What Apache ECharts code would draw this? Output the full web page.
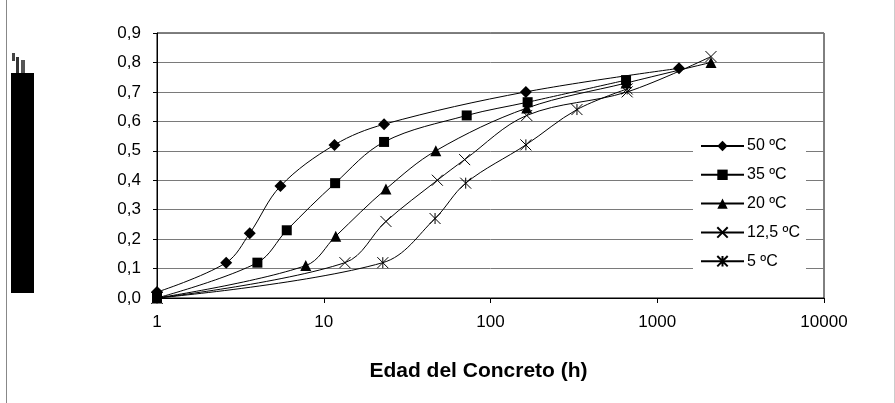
<!DOCTYPE html>
<html><head><meta charset="utf-8">
<script src="https://cdn.jsdelivr.net/npm/echarts@6/dist/echarts.min.js"></script>
<style>html,body{margin:0;padding:0;background:#fff}#c{width:895px;height:403px}</style>
</head><body><div id="c"></div>
<script>
var seriesNames = ['50 ºC', '35 ºC', '20 ºC', '12,5 ºC', '5 ºC'];
var xTicks = [1, 10, 100, 1000, 10000];
var yTicks = [0, 0.1, 0.2, 0.3, 0.4, 0.5, 0.6, 0.7, 0.8, 0.9];
var xTitle = 'Edad del Concreto (h)';

var t50x = [1, 2.6, 3.6, 5.5, 11.6, 23, 163, 1350];
var t50y = [0.02, 0.12, 0.22, 0.38, 0.52, 0.59, 0.70, 0.78];
var t35x = [1, 4, 6, 11.7, 23, 72, 167, 650];
var t35y = [0.0, 0.12, 0.23, 0.39, 0.53, 0.62, 0.665, 0.74];
var t20x = [1, 7.8, 11.8, 23.6, 47, 165, 650, 2100];
var t20y = [0.0, 0.11, 0.21, 0.37, 0.50, 0.645, 0.73, 0.80];
var t12x = [1, 13.4, 23.6, 48, 70, 165, 660, 2100];
var t12y = [0.0, 0.12, 0.26, 0.40, 0.47, 0.62, 0.70, 0.82];
var t5x = [1, 22.6, 46.5, 71, 163, 330, 660];
var t5y = [0.0, 0.12, 0.27, 0.39, 0.52, 0.64, 0.71];

function pairs(xs, ys) { return xs.map(function (x, i) { return [x, ys[i]]; }); }

var symX = 'path://M0,0L10,10M10,0L0,10';
var symAst = 'path://M0,0L10,10M10,0L0,10M5,0L5,10';

var font = '"Liberation Sans", Arial, sans-serif';
var chart = echarts.init(document.getElementById('c'), null, {renderer: 'canvas'});

function mk(name, xs, ys, symbol, size, hollow) {
  return {
    name: name, type: 'line', data: pairs(xs, ys), smooth: 0.35,
    symbol: symbol, symbolSize: size, showSymbol: true,
    lineStyle: {color: '#000', width: 1},
    itemStyle: hollow ? {color: 'rgba(0,0,0,0)', borderColor: '#000', borderWidth: 1} : {color: '#000', borderWidth: 0},
    emphasis: {disabled: true}, animation: false, z: 3
  };
}

chart.setOption({
  animation: false,
  textStyle: {fontFamily: font},
  grid: {left: 157, right: 71, top: 33, bottom: 105, show: true, borderColor: '#000', borderWidth: 1, backgroundColor: 'transparent'},
  xAxis: {
    type: 'log', logBase: 10, min: 1, max: 10000,
    axisLine: {show: true, lineStyle: {color: '#000', width: 1}},
    axisTick: {show: true, length: 5, inside: false, lineStyle: {color: '#000'}},
    minorTick: {show: false},
    splitLine: {show: false},
    axisLabel: {color: '#000', fontSize: 17, fontFamily: font, margin: 16,
      formatter: function (v) { return String(Math.round(v)); }},
    name: xTitle, nameLocation: 'middle', nameGap: 63,
    nameTextStyle: {color: '#000', fontSize: 21, fontWeight: 'bold', fontFamily: font, padding: [0, 24, 0, 0]}
  },
  yAxis: {
    type: 'value', min: 0, max: 0.9, interval: 0.1,
    axisLine: {show: true, lineStyle: {color: '#000', width: 1}},
    axisTick: {show: true, length: 4, inside: false, lineStyle: {color: '#000'}},
    splitLine: {show: true, lineStyle: {color: '#7a7a7a', width: 1}},
    axisLabel: {color: '#000', fontSize: 17, fontFamily: font, margin: 16,
      formatter: function (v) { return v.toFixed(1).replace('.', ','); }}
  },
  legend: {
    orient: 'vertical', left: 693, top: 132,
    data: seriesNames,
    itemWidth: 43, itemHeight: 13, itemGap: 12.8,
    padding: [6, 6, 8, 7],
    backgroundColor: '#fff',
    textStyle: {color: '#000', fontSize: 16, fontFamily: font, padding: [0, 0, 0, -2]},
    selectedMode: false
  },
  graphic: [
    {type: 'rect', shape: {x: 11, y: 73, width: 23, height: 220}, style: {fill: '#000'}},
    {type: 'rect', shape: {x: 12, y: 53, width: 3, height: 8}, style: {fill: '#444'}},
    {type: 'rect', shape: {x: 16, y: 57, width: 3, height: 16}, style: {fill: '#333'}},
    {type: 'rect', shape: {x: 21, y: 60, width: 4, height: 13}, style: {fill: '#555'}},
    {type: 'line', shape: {x1: 6.5, y1: 0, x2: 6.5, y2: 403}, style: {stroke: '#888', lineWidth: 1}},
    {type: 'line', shape: {x1: 894.5, y1: 0, x2: 894.5, y2: 403}, style: {stroke: '#ccc', lineWidth: 1}}
  ],
  series: [
    mk(seriesNames[0], t50x, t50y, 'diamond', 12, false),
    mk(seriesNames[1], t35x, t35y, 'rect', 10, false),
    mk(seriesNames[2], t20x, t20y, 'triangle', 11, false),
    mk(seriesNames[3], t12x, t12y, symX, 11, true),
    mk(seriesNames[4], t5x, t5y, symAst, 11, true)
  ]
});
</script></body></html>
